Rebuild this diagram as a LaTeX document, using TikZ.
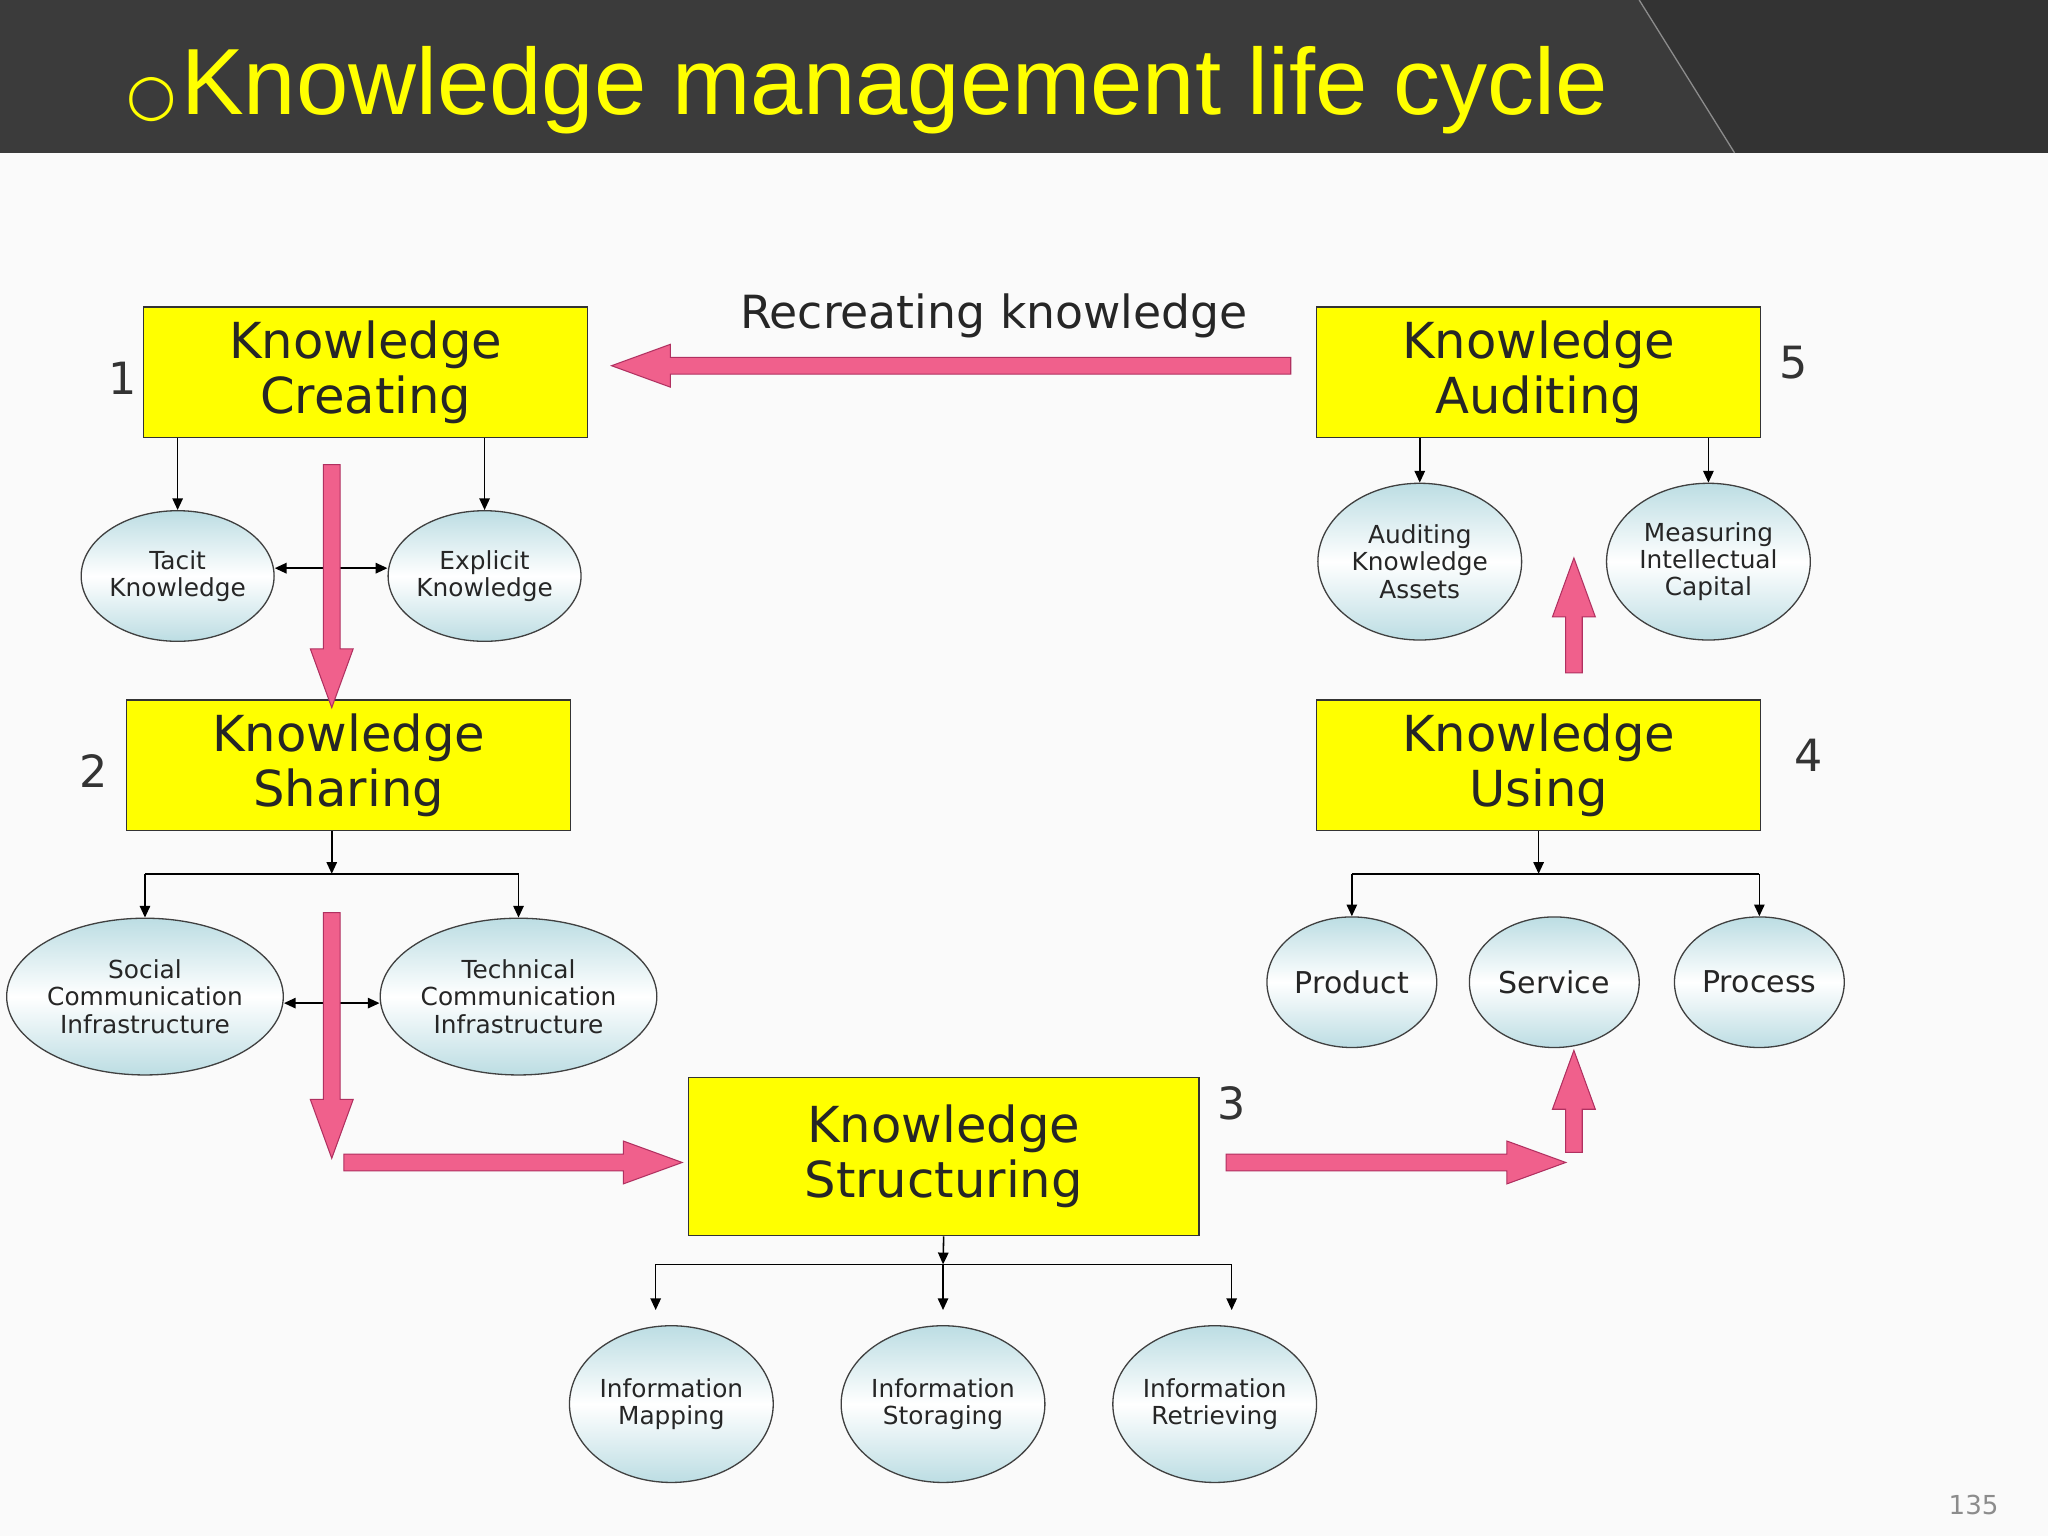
\documentclass[tikz,border=0pt]{standalone}
\usepackage{fontspec}
\setmainfont{DejaVu Sans}
\newfontfamily\titlefont{Liberation Sans}
\usetikzlibrary{shapes.geometric,shapes.arrows,arrows.meta}
\definecolor{hdr}{HTML}{3B3B3B}
\definecolor{hdrb}{HTML}{333333}
\definecolor{ttl}{HTML}{FFFF00}
\definecolor{kbox}{HTML}{FFFF00}
\definecolor{pk}{HTML}{F0608C}
\definecolor{pkd}{HTML}{B03060}
\definecolor{eb}{HTML}{BCDDE3}
\begin{document}
\begin{tikzpicture}[x=1pt,y=-1pt,
  kb/.style={draw=black!80,fill=kbox,line width=1pt,minimum width=340pt,minimum height=100pt,inner sep=0pt,align=center,font=\fontsize{38}{42}\selectfont,text=black!85},
  el/.style={ellipse,draw=black!75,line width=1pt,top color=eb,bottom color=eb,middle color=white,inner sep=0pt,align=center,minimum width=156pt,minimum height=120pt,font=\fontsize{19}{21}\selectfont,text=black!85},
  els/.style={el,minimum width=130pt,minimum height=100pt},
  num/.style={font=\fontsize{34}{36}\selectfont,text=black!80},
  ar/.style={-{Triangle[length=9pt,width=8pt]},line width=1.2pt},
  dar/.style={{Triangle[length=9pt,width=8pt]}-{Triangle[length=9pt,width=8pt]},line width=1.2pt},
  ln/.style={line width=1.2pt},
  pa/.style={single arrow,draw=pkd,fill=pk,line width=0.8pt,inner sep=6pt,minimum width=32pt,single arrow head extend=10pt,single arrow tip angle=40}]
\useasboundingbox (0,0) rectangle (1568,1176);
\fill[white!98!black] (0,0) rectangle (1568,1176);
\fill[hdr] (0,0) rectangle (1568,117);
\fill[hdrb] (1255,0) -- (1568,0) -- (1568,117) -- (1328,117) -- cycle;
\draw[black!45,line width=1pt] (1255,0) -- (1328,117);
\node[anchor=base west,text=ttl,inner sep=0pt] (title) at (97,88) {{\fontsize{44}{48}\selectfont ○} {\titlefont\fontsize{72}{80}\selectfont Knowledge management life cycle}};
\node[text=black!45,font=\fontsize{20}{22}\selectfont] (pg) at (1511,1152) {135};

% boxes
\node[kb] (kc) at (280,285) {Knowledge\\Creating};
\node[kb] (ka) at (1178,285) {Knowledge\\Auditing};
\node[kb] (ks) at (267,586) {Knowledge\\Sharing};
\node[kb] (ku) at (1178,586) {Knowledge\\Using};
\node[kb,minimum width=391pt,minimum height=121pt] (kst) at (722.5,885.5) {Knowledge\\Structuring};
\node[num] (n1) at (94,290) {1};
\node[num] (n2) at (72,590) {2};
\node[num] (n3) at (943,845) {3};
\node[num] (n4) at (1385,578) {4};
\node[num] (n5) at (1373,278) {5};
\node[font=\fontsize{35}{38}\selectfont,text=black!85] (rk) at (761,242) {Recreating knowledge};

% ellipses
\node[els] (tac) at (136,441) {Tacit\\Knowledge};
\node[els] (exp) at (371,441) {Explicit\\Knowledge};
\node[el] (aud) at (1087,430) {Auditing\\Knowledge\\Assets};
\node[el] (mea) at (1308,430) {Measuring\\Intellectual\\Capital};
\node[el] (soc) at (111,763) {Social\\Communication\\Infrastructure};
\node[el] (tec) at (397,763) {Technical\\Communication\\Infrastructure};
\node[els,font=\fontsize{23}{25}\selectfont] (prod) at (1035,752) {Product};
\node[els,font=\fontsize{23}{25}\selectfont] (serv) at (1190,752) {Service};
\node[els,font=\fontsize{23}{25}\selectfont] (proc) at (1347,752) {Process};
\node[el] (imap) at (514,1075) {Information\\Mapping};
\node[el] (isto) at (722,1075) {Information\\Storaging};
\node[el] (iret) at (930,1075) {Information\\Retrieving};

% black connectors
\draw[ar] (kc.south -| tac) -- (tac.north);
\draw[ar] (kc.south -| exp) -- (exp.north);
\draw[dar] (tac.east |- 0,435) -- (exp.west |- 0,435);
\draw[ar] (ka.south -| aud) -- (aud.north);
\draw[ar] (ka.south -| mea) -- (mea.north);
\coordinate (sj) at (254,669);
\draw[ar] (ks.south -| sj) -- (sj);
\draw[ln] (soc |- sj) -- (tec |- sj);
\draw[ar] (soc |- sj) -- (soc.north);
\draw[ar] (tec |- sj) -- (tec.north);
\draw[dar] (soc.east |- 0,768) -- (tec.west |- 0,768);
\coordinate (uj) at (1178,669);
\draw[ar] (ku.south -| uj) -- (uj);
\draw[ln] (prod |- uj) -- (proc |- uj);
\draw[ar] (prod |- uj) -- (prod.north);
\draw[ar] (proc |- uj) -- (proc.north);
\coordinate (tj) at (722,968);
\draw[ar] (kst.south) -- (tj);
\draw[ln] (502,968) coordinate (tl) -- (943,968) coordinate (tr);
\draw[ar] (tl) -- (502,1003);
\draw[ar] (tj) -- (722,1003);
\draw[ar] (tr) -- (943,1003);

% pink arrows
\node[pa,minimum height=520pt,shape border rotate=180] (p1) at (737,280) {};
\node[pa,minimum height=186pt,shape border rotate=270] (p2) at (254,440) {};
\node[pa,minimum height=188pt,shape border rotate=270] (p3) at (254,784) {};
\node[pa,minimum height=259pt] (p4) at (384,890) {};
\node[pa,minimum height=260pt] (p5) at (1060,890) {};
\node[pa,minimum height=78pt,shape border rotate=90] (p6) at (1205,852) {};
\node[pa,minimum height=88pt,shape border rotate=90] (p7) at (1205,480) {};
\end{tikzpicture}
\end{document}
